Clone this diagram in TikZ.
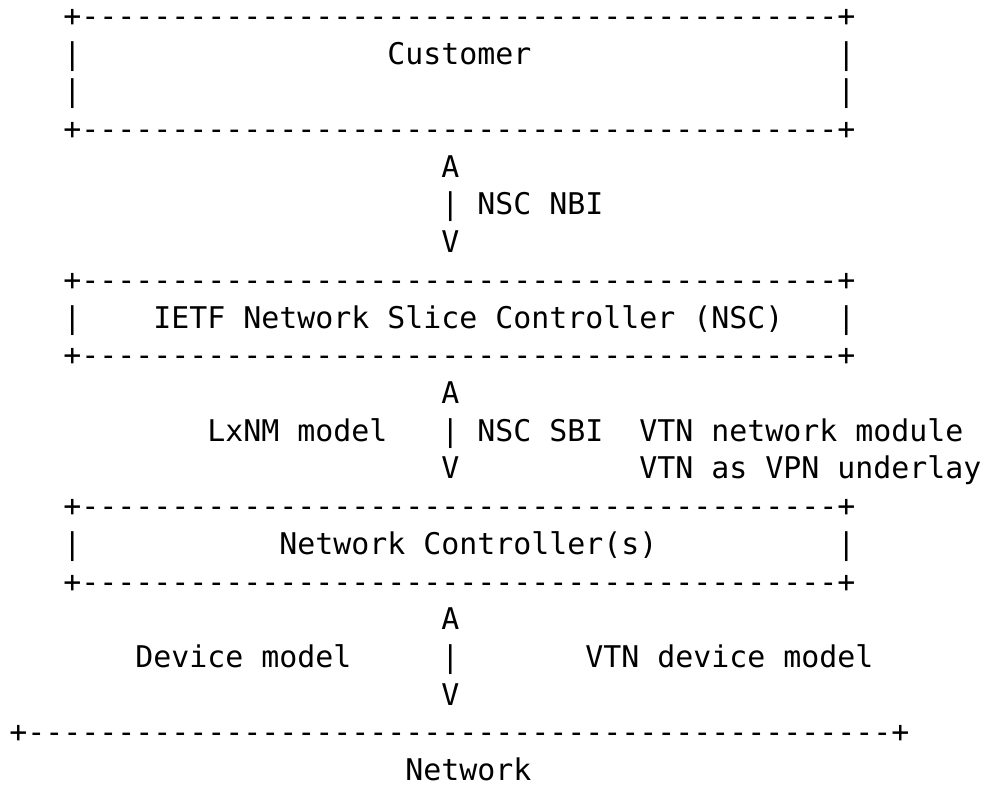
\documentclass[tikz,border=0pt]{standalone}
\usepackage{fontspec}
\setmonofont{DejaVu Sans Mono}
\newcommand{\dashrule}[1]{+\foreach\k in {1,...,#1}{-}+}
\tikzset{
    ascii/.style={
        anchor=base west,
        inner sep=0pt,
        outer sep=0pt,
        text depth=0pt,
        font=\ttfamily\fontsize{29.9}{36}\selectfont
    },
}
\begin{document}
\begin{tikzpicture}[x=18pt, y=-37.7pt]
    \useasboundingbox (-9.3pt,26.5pt) rectangle (975.7pt,-759.5pt);
    % Customer
    \node[ascii] (custtop) at (3,0) {\dashrule{42}};
    \node[ascii] (custname) at (21,1) {Customer};
    \foreach \r in {1,2} {
        \node[ascii] (custl\r) at (3,\r) {|};
        \node[ascii] (custr\r) at (46,\r) {|};
    }
    \node[ascii] (custbot) at (3,3) {\dashrule{42}};
    % NBI
    \node[ascii] (nbiup) at (24,4) {A};
    \node[ascii] (nbi) at (24,5) {| NSC NBI};
    \node[ascii] (nbidown) at (24,6) {V};
    % NSC
    \node[ascii] (nsctop) at (3,7) {\dashrule{42}};
    \node[ascii] (nscl) at (3,8) {|};
    \node[ascii] (nscname) at (8,8) {IETF Network Slice Controller (NSC)};
    \node[ascii] (nscr) at (46,8) {|};
    \node[ascii] (nscbot) at (3,9) {\dashrule{42}};
    % SBI
    \node[ascii] (sbiup) at (24,10) {A};
    \node[ascii] (lxnm) at (11,11) {LxNM model};
    \node[ascii] (sbi) at (24,11) {| NSC SBI};
    \node[ascii] (vtnnet) at (35,11) {VTN network module};
    \node[ascii] (sbidown) at (24,12) {V};
    \node[ascii] (vtnvpn) at (35,12) {VTN as VPN underlay};
    % Network Controller
    \node[ascii] (nctop) at (3,13) {\dashrule{42}};
    \node[ascii] (ncl) at (3,14) {|};
    \node[ascii] (ncname) at (15,14) {Network Controller(s)};
    \node[ascii] (ncr) at (46,14) {|};
    \node[ascii] (ncbot) at (3,15) {\dashrule{42}};
    % device level
    \node[ascii] (devup) at (24,16) {A};
    \node[ascii] (devmodel) at (7,17) {Device model};
    \node[ascii] (devline) at (24,17) {|};
    \node[ascii] (vtndev) at (32,17) {VTN device model};
    \node[ascii] (devdown) at (24,18) {V};
    % Network
    \node[ascii] (netline) at (0,19) {\dashrule{48}};
    \node[ascii] (netname) at (22,20) {Network};
\end{tikzpicture}
\end{document}
